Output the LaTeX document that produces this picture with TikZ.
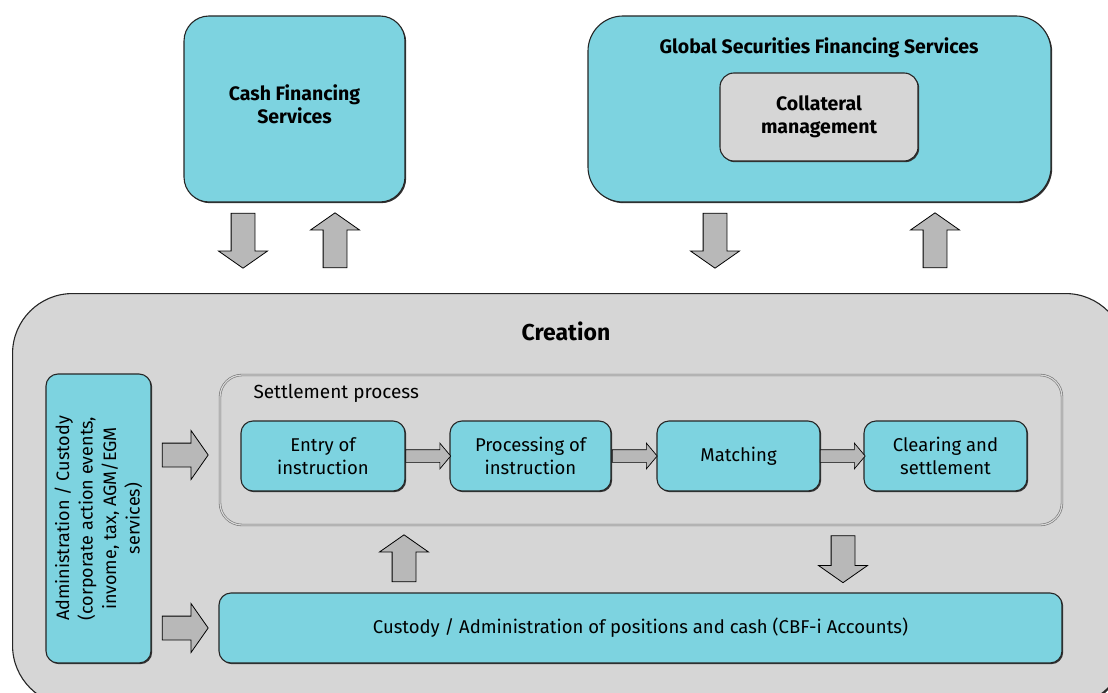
\documentclass[tikz,border=0pt]{standalone}
\usepackage{fontspec}
\setmainfont{Fira Sans}
\usetikzlibrary{shapes.arrows,shadows,calc}

\definecolor{boxcyan}{RGB}{125,211,224}
\definecolor{panelgray}{RGB}{214,214,214}
\definecolor{arrowgray}{RGB}{184,184,184}

\tikzset{
    box/.style={rectangle, rounded corners=12pt, draw=black!85, line width=1.1pt, fill=boxcyan,
        align=center, inner sep=0pt, font=\fontsize{18.5}{23}\selectfont,
        drop shadow={shadow xshift=1.2pt, shadow yshift=-1.2pt, fill=black!80, opacity=1}},
    boldtext/.style={align=center, font=\fontsize{19.5}{23}\selectfont\bfseries},
    bigarrow/.style={single arrow, draw=black, line width=0.8pt, fill=arrowgray, inner xsep=0pt,
        inner ysep=11.5pt, text height=0pt, text depth=0pt, text width=0pt,
        single arrow head extend=12.5pt, single arrow tip angle=110, minimum height=#1},
    smallarrow/.style={single arrow, draw=black, line width=0.7pt, fill=arrowgray, inner xsep=0pt,
        inner ysep=6pt, text height=0pt, text depth=0pt, text width=0pt, xshift=-2pt,
        single arrow head extend=6.5pt, single arrow tip angle=100, minimum height=#1}
}

\begin{document}
\begin{tikzpicture}[x=1pt, y=-1pt]
    \useasboundingbox (0,0) rectangle (1108,693);

    % top services
    \node[box, rounded corners=25pt, minimum width=221pt, minimum height=186pt] (cash) at (294.5,109) {};
    \node[boldtext] (cashtext) at (294.5,104) {Cash Financing\\Services};
    \node[box, rounded corners=35pt, minimum width=463pt, minimum height=186pt] (gsf) at (819.5,109) {};
    \node[boldtext] (gsftitle) at (819,48) {Global Securities Financing Services};
    \node[box, rounded corners=14pt, fill=panelgray, minimum width=198pt, minimum height=88pt, boldtext] (collat) at (819,117) {Collateral\\management};

    % arrows between services and creation
    \node[bigarrow=55pt, rotate=-90] (cashdown) at (243,236.5) {};
    \node[bigarrow=55pt, rotate=90] (cashup) at (335,244.5) {};
    \node[bigarrow=55pt, rotate=-90] (gsfdown) at (715,236.5) {};
    \node[bigarrow=55pt, rotate=90] (gsfup) at (935,244.5) {};

    % creation panel
    \node[box, rounded corners=60pt, fill=panelgray, minimum width=1113pt, minimum height=412pt, anchor=north west] (creation) at (12,293) {};
    \node[font=\fontsize{23}{26}\selectfont\bfseries] (creationtitle) at (566,331) {Creation};

    \node[box, minimum width=105pt, minimum height=289pt] (admin) at (98.5,518.5) {};
    \node[rotate=90, align=center, font=\fontsize{18}{23.5}\selectfont] (admintext) at (admin.center) {Administration / Custody\\(corporate action events,\\invome, tax, AGM/EGM\\services)};

    \node[rectangle, rounded corners=22pt, draw=black!55, double=panelgray, double distance=1.2pt, line width=0.6pt,
        minimum width=842pt, minimum height=150pt] (settle) at (641,450) {};
    \node[anchor=west, font=\fontsize{19}{22}\selectfont] (settletitle) at (250,393) {Settlement process};

    \node[box, minimum width=164pt, minimum height=70pt] (entry) at (323,456) {Entry of\\instruction};
    \node[box, minimum width=161pt, minimum height=70pt] (proc) at (530.5,456) {Processing of\\instruction};
    \node[box, minimum width=163pt, minimum height=70pt] (match) at (738.5,456) {Matching};
    \node[box, minimum width=163pt, minimum height=70pt] (clear) at (945.5,456) {Clearing and\\settlement};

    \node[box, minimum width=843pt, minimum height=70pt] (custody) at (640.5,628) {Custody / Administration of positions and cash (CBF-i Accounts)};

    % arrows inside creation
    \node[smallarrow=45pt] (a1) at ($(entry.east)!0.5!(proc.west)$) {};
    \node[smallarrow=45pt] (a2) at ($(proc.east)!0.5!(match.west)$) {};
    \node[smallarrow=45pt] (a3) at ($(match.east)!0.5!(clear.west)$) {};

    \node[bigarrow=46pt] (adminright) at (181,455) {};
    \node[bigarrow=46pt] (adminrighttwo) at (181,628) {};
    \node[bigarrow=47pt, rotate=90] (custup) at (404,562.5) {};
    \node[bigarrow=47pt, rotate=-90] (settdown) at (843,555) {};
\end{tikzpicture}
\end{document}
